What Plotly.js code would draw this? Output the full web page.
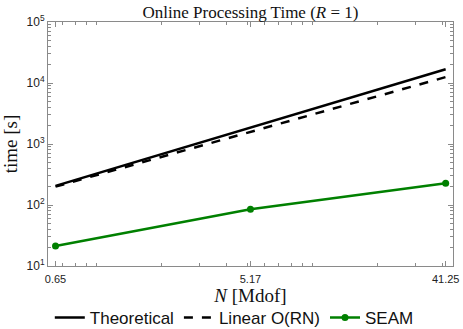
<!DOCTYPE html>
<html>
<head>
<meta charset="utf-8">
<script src="https://cdn.plot.ly/plotly-3.0.1.min.js"></script>
<style>
  html, body { margin: 0; padding: 0; background: #fff; }
  #chart { width: 463px; height: 329px; }
</style>
</head>
<body>
<div id="chart"></div>
<script>
// problem size N [Mdof]
const sizes = [0.65, 5.17, 41.25];
const sizeLabels = ['0.65', '5.17', '41.25'];

// online time [s]
const theoretical = [206, 1860, 16800];
const linearRN = [200, 1590, 12500];
const seam = [21.3, 85.3, 228];

const yTickVals = [10, 100, 1000, 10000, 100000];
const yTickText = ['10<sup>1</sup>', '10<sup>2</sup>', '10<sup>3</sup>', '10<sup>4</sup>', '10<sup>5</sup>'];

const serif = '"Liberation Serif", "Times New Roman", serif';
const sans = '"Liberation Sans", Arial, sans-serif';
const frame = '#8a8a8a';

const traces = [
  {
    x: sizes, y: theoretical, mode: 'lines', name: 'Theoretical',
    line: { color: 'black', width: 2.5 },
  },
  {
    x: sizes, y: linearRN, mode: 'lines', name: 'Linear O(RN)',
    line: { color: 'black', width: 2.5, dash: 'dash' },
  },
  {
    x: sizes, y: seam, mode: 'lines+markers', name: 'SEAM',
    line: { color: 'rgb(0,128,0)', width: 2.5 },
    marker: { color: 'rgb(0,128,0)', size: 7 },
  },
];

const axisCommon = {
  type: 'log',
  showgrid: false,
  zeroline: false,
  showline: true,
  linecolor: frame,
  linewidth: 1,
  mirror: 'allticks',
  ticks: 'inside',
  ticklen: 5,
  tickcolor: frame,
  minor: { ticks: 'inside', ticklen: 3, tickcolor: frame, dtick: 'D1' },
};

const layout = {
  width: 463,
  height: 329,
  margin: { l: 48, r: 10, t: 22, b: 63, autoexpand: false },
  paper_bgcolor: 'white',
  plot_bgcolor: 'white',
  title: {
    text: 'Online Processing Time (<i>R</i> = 1)',
    font: { family: serif, size: 17, color: '#111' },
    x: 0.541, xanchor: 'center', y: 0.963, yanchor: 'middle',
  },
  xaxis: Object.assign({}, axisCommon, {
    range: [Math.log10(0.6), Math.log10(44.6)],
    tickmode: 'array',
    tickvals: sizes,
    ticktext: sizeLabels,
    ticklabelstandoff: 3,
    tickfont: { family: sans, size: 11, color: '#222' },
    title: { text: '<i>N</i> [Mdof]', font: { family: serif, size: 19, color: '#111' }, standoff: 3 },
  }),
  yaxis: Object.assign({}, axisCommon, {
    range: [1, 5],
    tickmode: 'array',
    tickvals: yTickVals,
    ticktext: yTickText,
    tickfont: { family: sans, size: 12, color: '#222' },
    title: { text: 'time [s]', font: { family: serif, size: 19, color: '#111' }, standoff: 4 },
  }),
  showlegend: true,
  legend: {
    orientation: 'h',
    x: 0.46, xanchor: 'center',
    y: -0.213, yanchor: 'middle',
    font: { family: sans, size: 17, color: '#111' },
    bgcolor: 'rgba(0,0,0,0)',
    itemwidth: 30,
  },
};

Plotly.newPlot('chart', traces, layout, { displayModeBar: false, staticPlot: true });
</script>
</body>
</html>
